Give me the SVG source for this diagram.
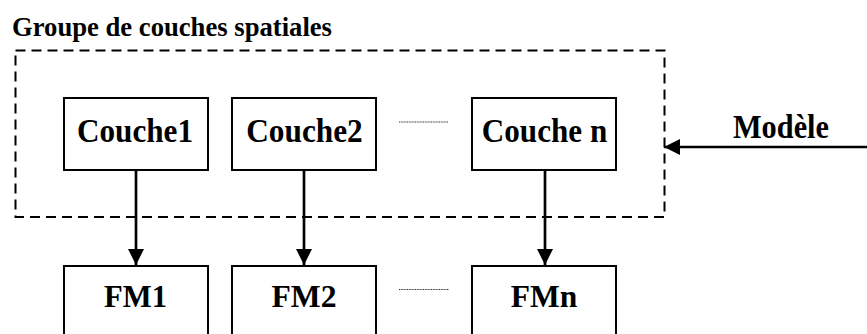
<svg xmlns="http://www.w3.org/2000/svg" width="867" height="334" viewBox="0 0 867 334">
<style>
  .box{fill:#fff;stroke:#000;stroke-width:2}
  .lbl{font-family:"Liberation Serif","Times New Roman",serif;font-weight:bold;font-size:34px;fill:#000;text-anchor:middle}
  .fm{font-size:31.5px}
  .title{font-family:"Liberation Serif","Times New Roman",serif;font-weight:bold;font-size:26.5px;fill:#000}
  .conn{stroke:#000;stroke-width:2.7;fill:none}
  .dots{stroke:#333;stroke-width:1.2;stroke-dasharray:1 0.6;fill:none}
  .group{fill:none;stroke:#000;stroke-width:2;stroke-dasharray:10 6}
</style>
<defs>
  <marker id="ah" markerWidth="16" markerHeight="16" viewBox="0 0 16 16" refX="16" refY="8" orient="auto" markerUnits="userSpaceOnUse">
    <path d="M0,0 L16,8 L0,16 Z" fill="#000"/>
  </marker>
</defs>
<rect width="867" height="334" fill="#fff"/>
<g id="groupe">
  <text class="title" x="12" y="36" textLength="320" lengthAdjust="spacingAndGlyphs">Groupe de couches spatiales</text>
  <rect class="group" x="15.5" y="50.5" width="649" height="166.5"/>
</g>
<g id="couche1"><rect class="box" x="64" y="98" width="144" height="72"/><text class="lbl" x="135" y="142" textLength="116" lengthAdjust="spacingAndGlyphs">Couche1</text></g>
<g id="couche2"><rect class="box" x="232" y="98" width="144" height="72"/><text class="lbl" x="304.5" y="142" textLength="116.5" lengthAdjust="spacingAndGlyphs">Couche2</text></g>
<g id="couchen"><rect class="box" x="472" y="98" width="144" height="72"/><text class="lbl" x="544.5" y="142" textLength="125.5" lengthAdjust="spacingAndGlyphs">Couche n</text></g>
<g id="fm1"><rect class="box" x="64" y="266" width="144" height="80"/><text class="lbl fm" x="135.5" y="307" textLength="63" lengthAdjust="spacingAndGlyphs">FM1</text></g>
<g id="fm2"><rect class="box" x="232" y="266" width="144" height="80"/><text class="lbl fm" x="304" y="307" textLength="65" lengthAdjust="spacingAndGlyphs">FM2</text></g>
<g id="fmn"><rect class="box" x="472" y="266" width="144" height="80"/><text class="lbl fm" x="544" y="307" textLength="66.5" lengthAdjust="spacingAndGlyphs">FMn</text></g>
<g id="modele"><text class="lbl" x="781" y="137.5" textLength="96" lengthAdjust="spacingAndGlyphs">Modèle</text></g>
<g id="connectors">
  <line class="conn" x1="136" y1="170" x2="136" y2="265" marker-end="url(#ah)"/>
  <line class="conn" x1="304" y1="170" x2="304" y2="265" marker-end="url(#ah)"/>
  <line class="conn" x1="545" y1="170" x2="545" y2="265" marker-end="url(#ah)"/>
  <line class="conn" x1="867" y1="147" x2="664" y2="147" marker-end="url(#ah)"/>
  <line class="dots" x1="399" y1="122" x2="448" y2="122"/>
  <line class="dots" x1="399" y1="289.5" x2="449" y2="289.5"/>
</g>
</svg>
